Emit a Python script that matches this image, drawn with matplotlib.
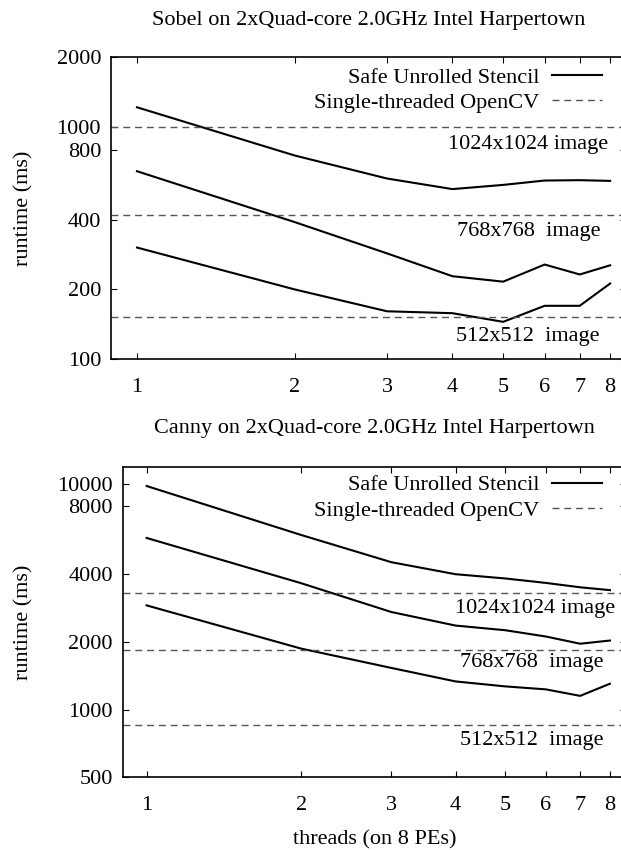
import matplotlib
matplotlib.use("Agg")
import matplotlib.pyplot as plt
from matplotlib.lines import Line2D


OUTPUT_FILE = "out.png"

THREADS = [1, 2, 3, 4, 5, 6, 7, 8]

SOBEL_1024 = [1218, 755, 601, 541, 564, 589, 591, 587]
SOBEL_768 = [646, 390, 286, 228, 216, 256, 232, 254]
SOBEL_512 = [303, 200, 161, 158, 145, 170, 170, 212]
SOBEL_OPENCV = [1000, 418, 152]

CANNY_1024 = [9830, 5960, 4510, 3990, 3820, 3650, 3490, 3390]
CANNY_768 = [5780, 3640, 2710, 2360, 2250, 2110, 1960, 2025]
CANNY_512 = [2900, 1865, 1530, 1333, 1267, 1229, 1150, 1302]
CANNY_OPENCV = [3305, 1836, 853]

IMAGE_LABELS = ["1024x1024 image", "768x768  image", "512x512  image"]

SOBEL_YTICKS = [100, 200, 400, 800, 1000, 2000]
CANNY_YTICKS = [500, 1000, 2000, 4000, 8000, 10000]

SOBEL_TITLE = "Sobel on 2xQuad-core 2.0GHz Intel Harpertown"
CANNY_TITLE = "Canny on 2xQuad-core 2.0GHz Intel Harpertown"

FONT_SIZE = 16
DASH_COLOR = "#555555"


def style_axes(ax, yticks):
    """
    gnuplot-like log axes with inward ticks on all sides.
    """

    ax.set_xscale("log")
    ax.set_yscale("log")

    ax.set_xticks(THREADS)
    ax.set_xticklabels([str(t) for t in THREADS])
    ax.set_yticks(yticks)
    ax.set_yticklabels([str(t) for t in yticks])
    ax.minorticks_off()

    ax.tick_params(
        which="major",
        direction="in",
        length=4.5,
        width=0.8,
        top=True,
        right=True,
        labelsize=FONT_SIZE
    )
    ax.tick_params(axis="x", pad=13.3)
    ax.tick_params(axis="y", pad=7)

    for spine in ax.spines.values():
        spine.set_linewidth(1.2)


def draw_panel(ax, series, opencv, yticks, ylim, xlim, label_pos, legend_anchor, title, title_pad):
    """
    Draw one runtime panel: stencil curves, OpenCV baselines, labels.
    """

    for values in series:
        ax.plot(THREADS, values, color="black", linewidth=1.5)

    for value in opencv:
        ax.axhline(value, color=DASH_COLOR, linewidth=1.0, dashes=(5, 3.5))

    ax.set_xlim(*xlim)
    ax.set_ylim(*ylim)

    style_axes(ax, yticks)

    for text, (x, y) in zip(IMAGE_LABELS, label_pos):
        ax.text(
            x, y, text,
            transform=ax.transAxes,
            ha="right",
            va="center",
            fontsize=FONT_SIZE
        )

    handles = [
        Line2D([], [], color="black", linewidth=1.5),
        Line2D([], [], color=DASH_COLOR, linewidth=1.0, dashes=(5, 3.5)),
    ]

    ax.legend(
        handles,
        ["Safe Unrolled Stencil", "Single-threaded OpenCV"],
        loc="upper right",
        bbox_to_anchor=legend_anchor,
        frameon=False,
        markerfirst=False,
        handlelength=2.25,
        handletextpad=0.55,
        labelspacing=0.22,
        borderpad=0,
        borderaxespad=0,
        fontsize=FONT_SIZE
    )

    ax.set_title(title, fontsize=FONT_SIZE, pad=title_pad)
    ax.set_ylabel("runtime (ms)", fontsize=FONT_SIZE)


def main():
    """
    Build both panels and save the figure.
    """

    plt.rcParams["font.family"] = ["Liberation Serif", "DejaVu Serif"]

    fig = plt.figure(figsize=(6.21, 8.5), dpi=100)

    # right spines sit just past the image edge, as in the original crop
    ax_top = fig.add_axes([0.1783, 0.5773, 0.8298, 0.3553])
    ax_bottom = fig.add_axes([0.1976, 0.0855, 0.8105, 0.3647])

    draw_panel(
        ax_top,
        [SOBEL_1024, SOBEL_768, SOBEL_512],
        SOBEL_OPENCV,
        SOBEL_YTICKS,
        ylim=(100, 2000),
        xlim=(0.891, 8.58),
        label_pos=[(0.965, 0.71), (0.950, 0.423), (0.948, 0.075)],
        legend_anchor=(0.953, 0.967),
        title=SOBEL_TITLE,
        title_pad=23
    )

    draw_panel(
        ax_bottom,
        [CANNY_1024, CANNY_768, CANNY_512],
        CANNY_OPENCV,
        CANNY_YTICKS,
        ylim=(500, 11900),
        xlim=(0.898, 8.60),
        label_pos=[(0.978, 0.545), (0.956, 0.369), (0.956, 0.12)],
        legend_anchor=(0.952, 0.976),
        title=CANNY_TITLE,
        title_pad=25
    )

    ax_bottom.set_xlabel("threads (on 8 PEs)", fontsize=FONT_SIZE)
    ax_bottom.xaxis.set_label_coords(0.5, -0.172)

    ax_top.yaxis.set_label_coords(-0.150, 0.5)
    ax_bottom.yaxis.set_label_coords(-0.178, 0.5)

    fig.savefig(OUTPUT_FILE, dpi=100)
    plt.close(fig)

    print(f"Figure saved to: {OUTPUT_FILE}")


if __name__ == "__main__":
    main()
